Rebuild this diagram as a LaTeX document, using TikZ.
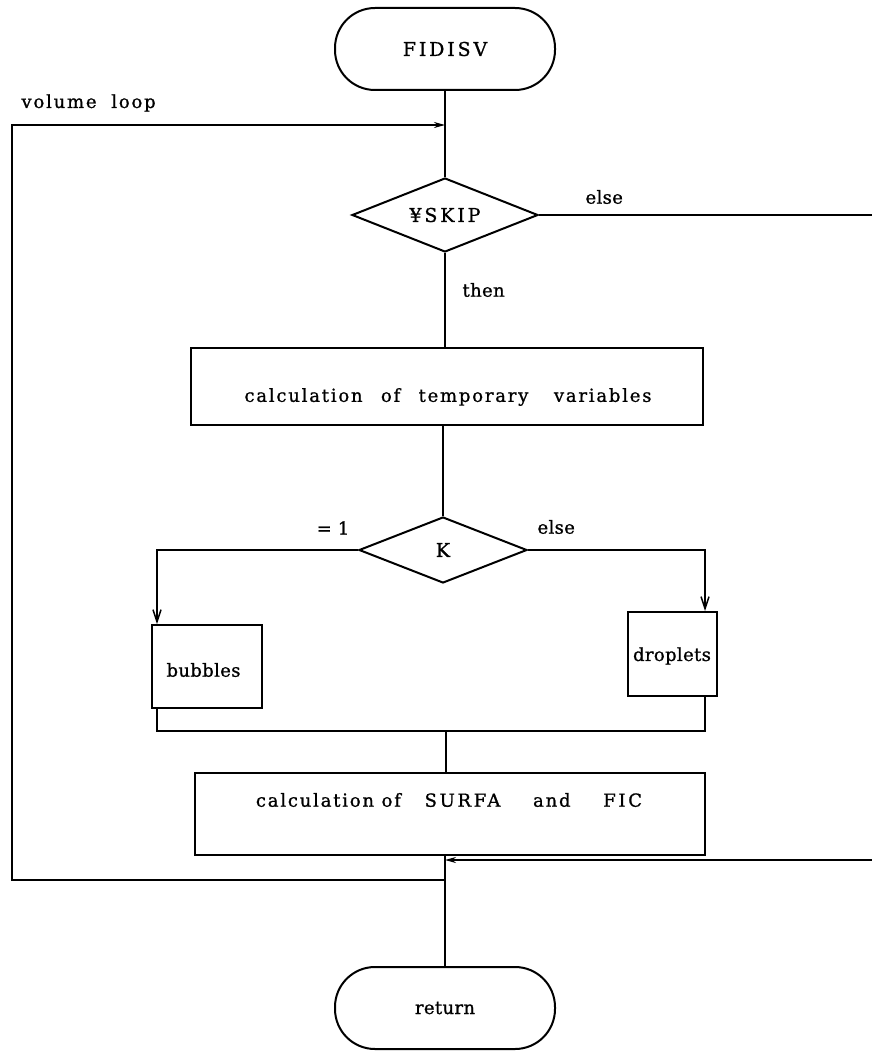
\documentclass[tikz,border=0pt]{standalone}
\usepackage{fontspec}
\newfontfamily\flowfont{DejaVu Serif}[LetterSpace=2, FakeBold=1]
\newfontfamily\widefont{DejaVu Serif}[LetterSpace=10, FakeBold=1]
\newfontfamily\capsfont{DejaVu Serif}[LetterSpace=15, FakeBold=1]
\usetikzlibrary{shapes.geometric,arrows.meta}
\begin{document}
\begin{tikzpicture}[x=1pt,y=-1pt,
  txt/.style={font=\flowfont\fontsize{18}{21}\selectfont},
  wtxt/.style={font=\widefont\fontsize{18}{21}\selectfont},
  ctxt/.style={font=\capsfont\fontsize{19}{22}\selectfont},
  term/.style={draw, rounded corners=40pt, minimum width=220pt, minimum height=82pt, inner sep=0pt, line width=2pt, txt},
  proc/.style={draw, inner sep=0pt, line width=2pt, txt},
  dec/.style={draw, diamond, aspect=2.5, inner sep=0pt, line width=2pt, txt},
  flow/.style={line width=1.5pt},
  barb/.style={-{Straight Barb[length=12pt,width=8pt,line width=1.5pt]}},
  tip/.style={-{Stealth[length=11pt,width=6pt]}},
]
\useasboundingbox (0,0) rectangle (872,1054);

% nodes
\node[term, ctxt] (start) at (445,49) {FIDISV};
\node[dec, ctxt, minimum width=186pt, minimum height=74pt] (skip) at (445,215) {¥SKIP};
\node[proc, minimum width=512pt, minimum height=77pt] (temp) at (447,386) {};
\node[wtxt] (temptext) at (448,397) {calculation\hspace{0.6em} of\hspace{0.6em} temporary\hspace{1em} variables};
\node[dec, ctxt, minimum width=168pt, minimum height=66pt] (k) at (443,550) {K};
\node[proc, minimum width=110pt, minimum height=83pt] (bubbles) at (207,666.5) {};
\node[txt, anchor=west] (bubtext) at (163,670) {bubbles};
\node[proc, minimum width=89pt, minimum height=84pt] (droplets) at (672.5,654) {};
\node[txt] (droptext) at (672,656) {droplets};
\node[proc, minimum width=510pt, minimum height=82pt] (surfa) at (450,814) {};
\node[wtxt] (surfatext) at (449,800) {calculation of\hspace{0.9em} {\capsfont SURFA}\hspace{1.4em} and\hspace{1.4em} {\capsfont FIC}};
\node[term] (ret) at (445,1008) {return};

% labels
\node[wtxt, anchor=west] (lloop) at (18,103) {volume\hspace{0.4em} loop};
\node[txt, anchor=west] (lelse1) at (582,197) {else};
\node[txt, anchor=west] (lthen) at (459,290) {then};
\node[txt] (lone) at (333,528) {= 1};
\node[txt, anchor=west] (lelse2) at (534,527) {else};

% junction points
\coordinate (loopin) at (445,125);
\coordinate (loopTL) at (12,125);
\coordinate (loopBL) at (12,880);
\coordinate (loopout) at (445,880);
\coordinate (elseout) at (872,215);
\coordinate (elsein) at (872,860);
\coordinate (elseret) at (445,860);
\coordinate (mergeL) at (157,731);
\coordinate (mergeC) at (446,731);
\coordinate (mergeR) at (705,731);

% main flow
\draw[flow] (start.south) -- (skip.north);
\draw[flow] (skip.south) -- (skip.south |- temp.north);
\draw[flow] (temp.south -| k.north) -- (k.north);
\draw[flow, barb] (k.west) -| ([xshift=-50pt]bubbles.north);
\draw[flow, barb] (k.east) -| ([xshift=32.5pt]droplets.north);
\draw[flow] ([xshift=-50pt]bubbles.south) -- (mergeL) -- (mergeR) -- ([xshift=32.5pt]droplets.south);
\draw[flow] (mergeC) -- (mergeC |- surfa.north);
\draw[flow] (surfa.south -| ret.north) -- (ret.north);

% volume loop and skip branch
\draw[flow, tip] (loopout) -- (loopBL) -- (loopTL) -- (loopin);
\draw[flow] (skip.east) -- (elseout);
\draw[flow, tip] (elsein) -- (elseret);
\end{tikzpicture}
\end{document}
